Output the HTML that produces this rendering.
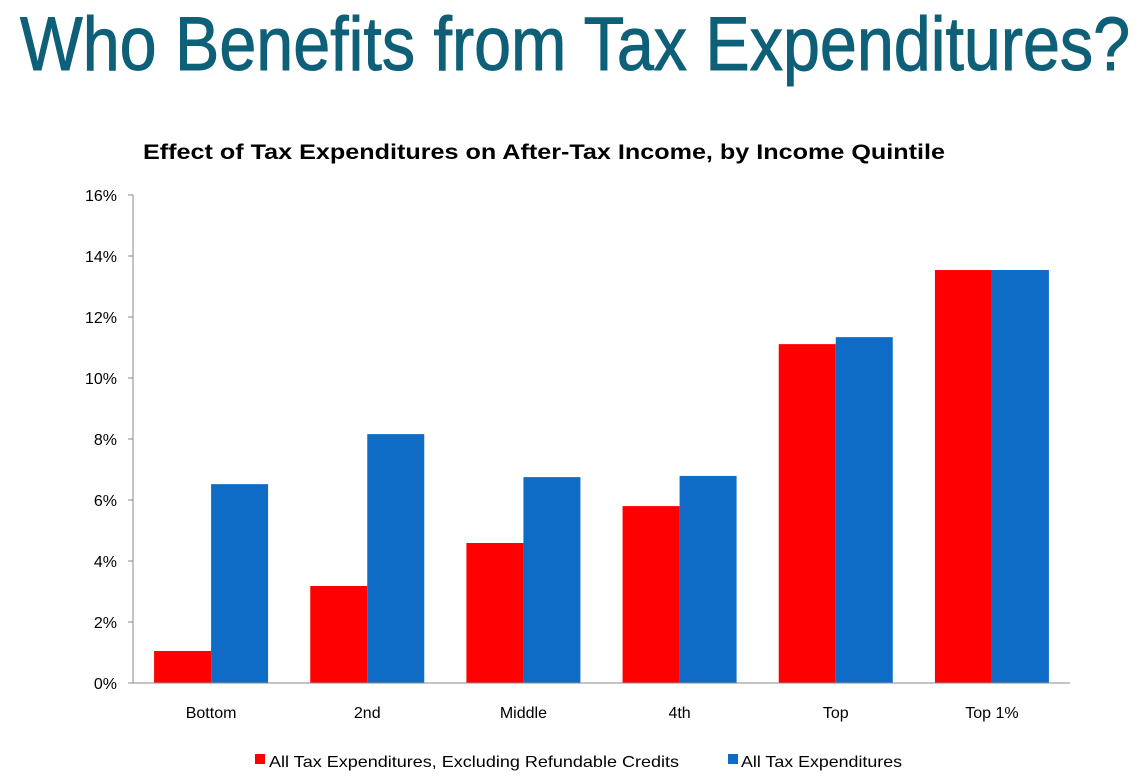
<!DOCTYPE html>
<html><head><meta charset="utf-8"><style>
body{margin:0;width:1140px;height:784px;background:#fff;overflow:hidden;font-family:"Liberation Sans",sans-serif}
#title{position:absolute;left:20px;top:0px;white-space:nowrap;font-size:76px;line-height:90px;color:#0e5f78;transform-origin:0 0;-webkit-text-stroke:1px #0e5f78}
</style></head><body>
<div id="title">Who Benefits from Tax Expenditures?</div>
<svg id="chart" width="1140" height="784" style="position:absolute;left:0;top:0"></svg>
<script>
const categories=["Bottom","2nd","Middle","4th","Top","Top 1%"];
const excludingRefundable=[1.05,3.18,4.59,5.8,11.11,13.54];
const allExpenditures=[6.52,8.16,6.75,6.79,11.34,13.54];
const yTicks=[0,2,4,6,8,10,12,14,16];
const tEl=document.getElementById('title');
tEl.style.transform='scaleX('+(1110/tEl.scrollWidth)+')';
const ns="http://www.w3.org/2000/svg";
const svg=document.getElementById('chart');
const x0=133,x1=1070,yB=683,yT=195,yMax=16;
const y=v=>yB-(v/yMax)*(yB-yT);
const gw=(x1-x0)/categories.length,bw=57;
function mk(t,a,txt){const e=document.createElementNS(ns,t);for(const k in a)e.setAttribute(k,a[k]);if(txt!==undefined)e.textContent=txt;svg.appendChild(e);return e;}
let e=mk('text',{x:143,y:159,'font-size':21,'font-weight':'bold',fill:'#000',textLength:802,lengthAdjust:'spacingAndGlyphs'},'Effect of Tax Expenditures on After-Tax Income, by Income Quintile');


yTicks.forEach(t=>{
 let l=mk('text',{x:117,y:y(t)+6,'font-size':16,'text-anchor':'end',fill:'#000'},t+'%');
 
 
 let m=mk('line',{x1:128,x2:133,y1:y(t),y2:y(t),stroke:'#888'});
 
 
});
categories.forEach((c,i)=>{
 const cx=x0+gw*(i+0.5);
 let r=mk('rect',{x:cx-bw,y:y(excludingRefundable[i]),width:bw,height:yB-y(excludingRefundable[i]),fill:'#ff0000'});
 
 
 let b=mk('rect',{x:cx,y:y(allExpenditures[i]),width:bw,height:yB-y(allExpenditures[i]),fill:'#0f6cc6'});
 
 
 let t=mk('text',{x:cx,y:718,'font-size':16,'text-anchor':'middle',fill:'#000'},c);
 
 
});
let ya=mk('line',{x1:x0,x2:x0,y1:yT,y2:yB,stroke:'#888'});


let xa=mk('line',{x1:x0,x2:x1,y1:yB,y2:yB,stroke:'#888'});


let s1=mk('rect',{x:255,y:754,width:10,height:10,fill:'#ff0000'});


let l1=mk('text',{x:269,y:767,'font-size':16,fill:'#000',textLength:410,lengthAdjust:'spacingAndGlyphs'},'All Tax Expenditures, Excluding Refundable Credits');


let s2=mk('rect',{x:728,y:754,width:10,height:10,fill:'#0f6cc6'});


let l2=mk('text',{x:741,y:767,'font-size':16,fill:'#000',textLength:161,lengthAdjust:'spacingAndGlyphs'},'All Tax Expenditures');


</script>
</body></html>
